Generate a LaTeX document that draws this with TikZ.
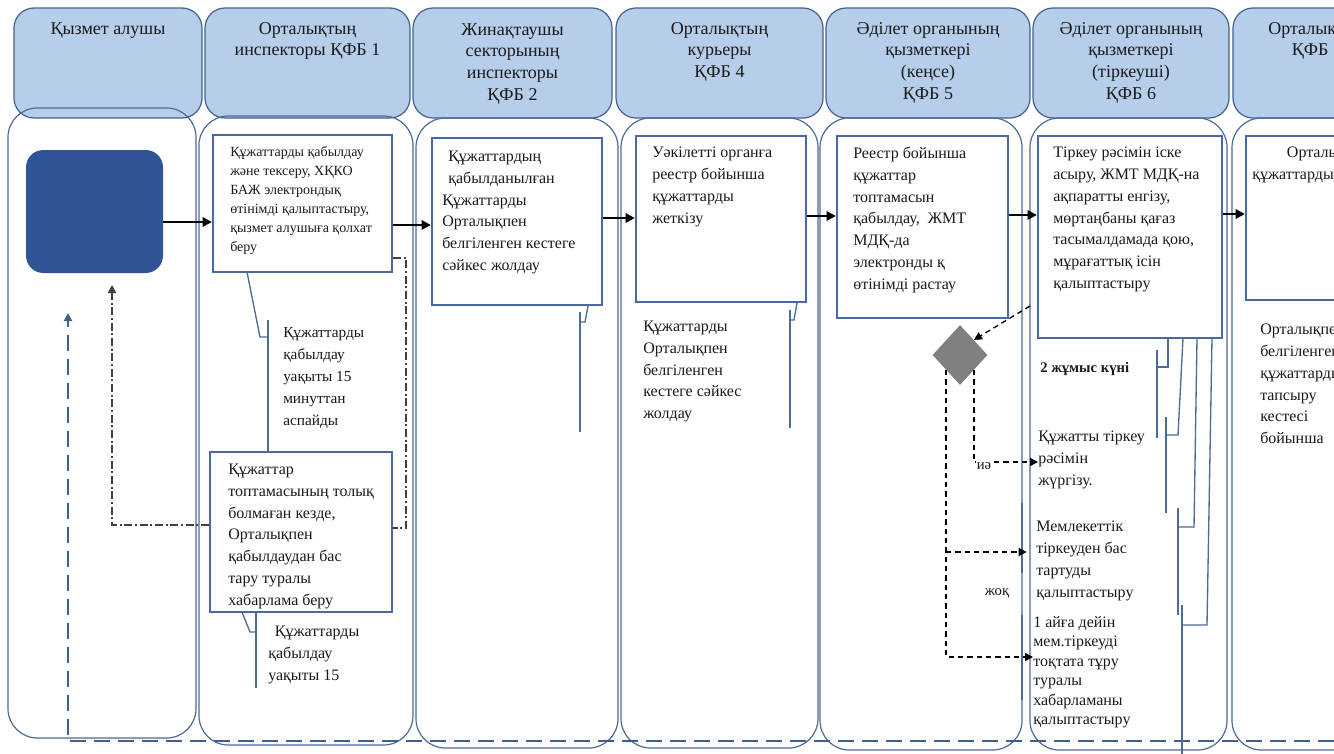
\documentclass[tikz,border=0pt]{standalone}
\usepackage{fontspec}
\setmainfont{Liberation Serif}
\usetikzlibrary{arrows.meta,shapes.geometric,calc}
\definecolor{hdrfill}{HTML}{B6CEEA}
\definecolor{hdrline}{HTML}{41628E}
\definecolor{laneline}{HTML}{4D6B95}
\definecolor{boxline}{HTML}{4A69A2}
\definecolor{startfill}{HTML}{2F5597}
\definecolor{diafill}{HTML}{808080}
\definecolor{retblue}{HTML}{3F5F8C}
\definecolor{txtc}{HTML}{1A1A1A}
\definecolor{ddc}{HTML}{404040}
\tikzset{
  hdr/.style={draw=hdrline, fill=hdrfill, rounded corners=15pt, line width=0.9pt, inner sep=0pt},
  hdrtxt/.style={font=\fontsize{13.5}{16.3}\selectfont, align=center, anchor=north, inner sep=0pt, text=txtc},
  lane/.style={draw=laneline, line width=0.9pt, rounded corners=22pt},
  pbox/.style={draw=boxline, line width=1.7pt, fill=white, inner sep=0pt},
  startbox/.style={fill=startfill, rounded corners=13pt, inner sep=0pt},
  btxt/.style={font=\fontsize{12}{16.3}\selectfont, align=left, anchor=north west, inner sep=0pt, text=txtc},
  stxt/.style={font=\fontsize{10.5}{14.25}\selectfont, align=left, anchor=north west, inner sep=0pt, text=txtc},
  flow/.style={line width=1.8pt, -{Triangle[length=7pt,width=7pt]}},
  call/.style={draw=laneline, line width=1pt},
  dd/.style={draw=ddc, line width=1.2pt, dash pattern=on 6pt off 2pt on 1.5pt off 2pt},
  dsh/.style={draw=black, line width=1pt, dash pattern=on 4pt off 3pt},
  ret/.style={draw=retblue, line width=1.6pt, dash pattern=on 12pt off 6pt},
  decision/.style={diamond, fill=diafill, inner sep=0pt, minimum width=41.25pt, minimum height=45pt},
  lbl/.style={font=\fontsize{11}{12}\selectfont, inner sep=1pt, text=txtc}
}
\begin{document}
\begin{tikzpicture}[x=0.75pt,y=-0.75pt]
\useasboundingbox (0,0) rectangle (1334,753);
\clip (0,0) rectangle (1334,753);
\fill[white] (0,0) rectangle (1334,753);

% headers
\node[hdr, minimum width=141pt,    minimum height=82.5pt] (h1) at (108,63) {};
\node[hdr, minimum width=153.75pt, minimum height=82.5pt] (h2) at (307.5,63) {};
\node[hdr, minimum width=149.25pt, minimum height=82.5pt] (h3) at (512.5,63) {};
\node[hdr, minimum width=155.25pt, minimum height=82.5pt] (h4) at (719.5,63) {};
\node[hdr, minimum width=153pt,    minimum height=82.5pt] (h5) at (928,63) {};
\node[hdr, minimum width=147pt,    minimum height=82.5pt] (h6) at (1131,63) {};
\node[hdr, minimum width=155.25pt, minimum height=82.5pt] (h7) at (1336.5,63) {};

\node[hdrtxt] (h1t) at (108,22) {Қызмет алушы};
\node[hdrtxt] (h2t) at (307.5,22) {Орталықтың\\инспекторы ҚФБ 1};
\node[hdrtxt] (h3t) at (512.5,23) {Жинақтаушы\\секторының\\инспекторы\\ҚФБ 2};
\node[hdrtxt] (h4t) at (719.5,22) {Орталықтың\\курьеры\\ҚФБ 4};
\node[hdrtxt] (h5t) at (928,22) {Әділет органының\\қызметкері\\(кеңсе)\\ҚФБ 5};
\node[hdrtxt] (h6t) at (1131,22) {Әділет органының\\қызметкері\\(тіркеуші)\\ҚФБ 6};
\node[hdrtxt] (h7t) at (1317,22) {Орталықтың\\ҚФБ 1};

% lanes
\draw[lane] (8,108) rectangle (196,738);
\draw[lane] (199,116) rectangle (413,745);
\draw[lane] (416,118) rectangle (618,748);
\draw[lane] (621,118) rectangle (818,748);
\draw[lane] (820,118) rectangle (1022,750);
\draw[lane] (1030,118) rectangle (1227,750);
\draw[lane] (1232,118) rectangle (1440,750);

% return dashed line
\coordinate (retS) at (1334,741);
\coordinate (retE) at (68,313);
\draw[ret, -{Triangle[length=6pt,width=6pt]}] (retS) -| (retE);

% start
\node[startbox, minimum width=102.75pt, minimum height=92.25pt] (start) at (94.5,211.5) {};

% process boxes
\node[pbox, minimum width=134.25pt, minimum height=102.75pt] (A) at (302.5,203.5) {};
\node[pbox, minimum width=136.5pt,  minimum height=120pt]    (R) at (301,532) {};
\node[pbox, minimum width=127.5pt,  minimum height=125.25pt] (B) at (517,221.5) {};
\node[pbox, minimum width=127.5pt,  minimum height=124.5pt]  (C) at (721,219) {};
\node[pbox, minimum width=128.25pt, minimum height=136.5pt]  (D) at (922.5,227) {};
\node[pbox, minimum width=138pt,    minimum height=151.5pt]  (E) at (1130,237) {};
\node[pbox, minimum width=115.5pt,  minimum height=123pt]    (F) at (1323,218) {};

% box texts
\node[stxt] (At) at (230,146) {Құжаттарды қабылдау\\және тексеру, ХҚКО\\БАЖ электрондық\\өтінімді қалыптастыру,\\қызмет алушыға қолхат\\беру};
\node[btxt] (Rt) at (228,464) {Құжаттар\\топтамасының толық\\болмаған кезде,\\Орталықпен\\қабылдаудан бас\\тару туралы\\хабарлама беру};
\node[btxt] (Bt) at (442,151) {\hspace*{4.5pt}Құжаттардың\\\hspace*{4.5pt}қабылданылған\\Құжаттарды\\Орталықпен\\белгіленген кестеге\\сәйкес жолдау};
\node[btxt] (Ct) at (652,147) {Уәкілетті органға\\реестр бойынша\\құжаттарды\\жеткізу};
\node[btxt] (Dt) at (853,147) {Реестр бойынша\\құжаттар\\топтамасын\\қабылдау,\ \ ЖМТ\\МДҚ-да\\электронды қ\\өтінімді растау};
\node[btxt] (Et) at (1053,147) {Тіркеу рәсімін іске\\асыру, ЖМТ МДҚ-на\\ақпаратты енгізу,\\мөртаңбаны қағаз\\тасымалдамада қою,\\мұрағаттық ісін\\қалыптастыру};
\node[btxt] (Ft) at (1252,147) {\hspace*{26pt}Орталықпен\\құжаттардың};

% notes
\node[btxt, font=\fontsize{11.5}{16.5}\selectfont] (nA) at (283,327) {Құжаттарды\\қабылдау\\уақыты 15\\минуттан\\аспайды};
\node[btxt] (nR) at (268,626) {\hspace*{5pt}Құжаттарды\\қабылдау\\уақыты 15};
\node[btxt] (nC) at (643,321) {Құжаттарды\\Орталықпен\\белгіленген\\кестеге сәйкес\\жолдау};
\node[btxt] (nF) at (1260,324) {Орталықпен\\белгіленген\\құжаттарды\\тапсыру\\кестесі\\бойынша};
\node[btxt, font=\bfseries\fontsize{11}{16}\selectfont] (T1) at (1040,362) {2 жұмыс күні};
\node[btxt] (T2) at (1038,431) {Құжатты тіркеу\\рәсімін\\жүргізу.};
\node[btxt] (T3) at (1036,521) {Мемлекеттік\\тіркеуден бас\\тартуды\\қалыптастыру};
\node[btxt, font=\fontsize{12}{14.6}\selectfont] (T4) at (1033,616) {1 айға дейін\\мем.тіркеуді\\тоқтата тұру\\туралы\\хабарламаны\\қалыптастыру};

% main flow
\draw[flow] (start.east |- 0,222) -- (A.west |- 0,222);
\draw[flow] (A.east |- 0,225) -- (B.west |- 0,225);
\draw[flow] (B.east |- 0,218) -- (C.west |- 0,218);
\draw[flow] (C.east |- 0,216) -- (D.west |- 0,216);
\draw[flow] (D.east |- 0,215) -- (E.west |- 0,215);
\draw[flow] (E.east |- 0,214) -- (F.west |- 0,214);

% dash-dot rejection path
\coordinate (ddE) at (112,285);
\draw[dd] (A.east |- 0,258) -- ++(13,0) |- (R.east |- 0,528);
\draw[dd, -{Triangle[length=6pt,width=6pt]}] (R.west |- 0,525) -| (ddE);

% callouts
\draw[call] (247,272) -- (260,337) -- (268,337);
\draw[call] (268,320) -- (268,452);
\draw[call] (242,612) -- (250,632) -- (256,632);
\draw[call] (256,612) -- (256,688);
\draw[call] (588,306) -- (585,322) -- (580,322);
\draw[call] (580,312) -- (580,432);
\draw[call] (797,303) -- (794,320) -- (790,320);
\draw[call] (790,310) -- (790,428);
\draw[call] (1168,338) -- (1168,367) -- (1157,367);
\draw[call] (1157,350) -- (1157,438);
\draw[call] (1183,338) -- (1178,435) -- (1166,435);
\draw[call] (1166,417) -- (1166,513);
\draw[call] (1197,338) -- (1194,527) -- (1178,527);
\draw[call] (1178,508) -- (1178,615);
\draw[call] (1212,338) -- (1207,625) -- (1182,625);
\draw[call] (1182,605) -- (1182,760);
\draw[call, line width=1.6pt] (1022,503) -- (1022,573);
\draw[call, line width=1.6pt] (1022,615) -- (1022,700);

% decision
\coordinate (dstart) at (1030,306);
\node[decision] (dia) at (960,355) {};
\draw[dsh, -{Triangle[length=6pt,width=6pt]}] (dstart) -- (dia.north east);
\draw[dsh, -{Triangle[length=6pt,width=6pt]}] (dia.south east) |- (T2.west |- 0,462);
\draw[dsh, -{Triangle[length=6pt,width=6pt]}] (dia.south west) |- (T4.west |- 0,657);
\draw[dsh, -{Triangle[length=6pt,width=6pt]}, shorten >=7pt] (dia.south west |- 0,552) -- (T3.west |- 0,552);
\node[lbl, fill=white] (yes) at (984,466) {иә};
\node[lbl] (no) at (997,593) {жоқ};
\end{tikzpicture}
\end{document}
